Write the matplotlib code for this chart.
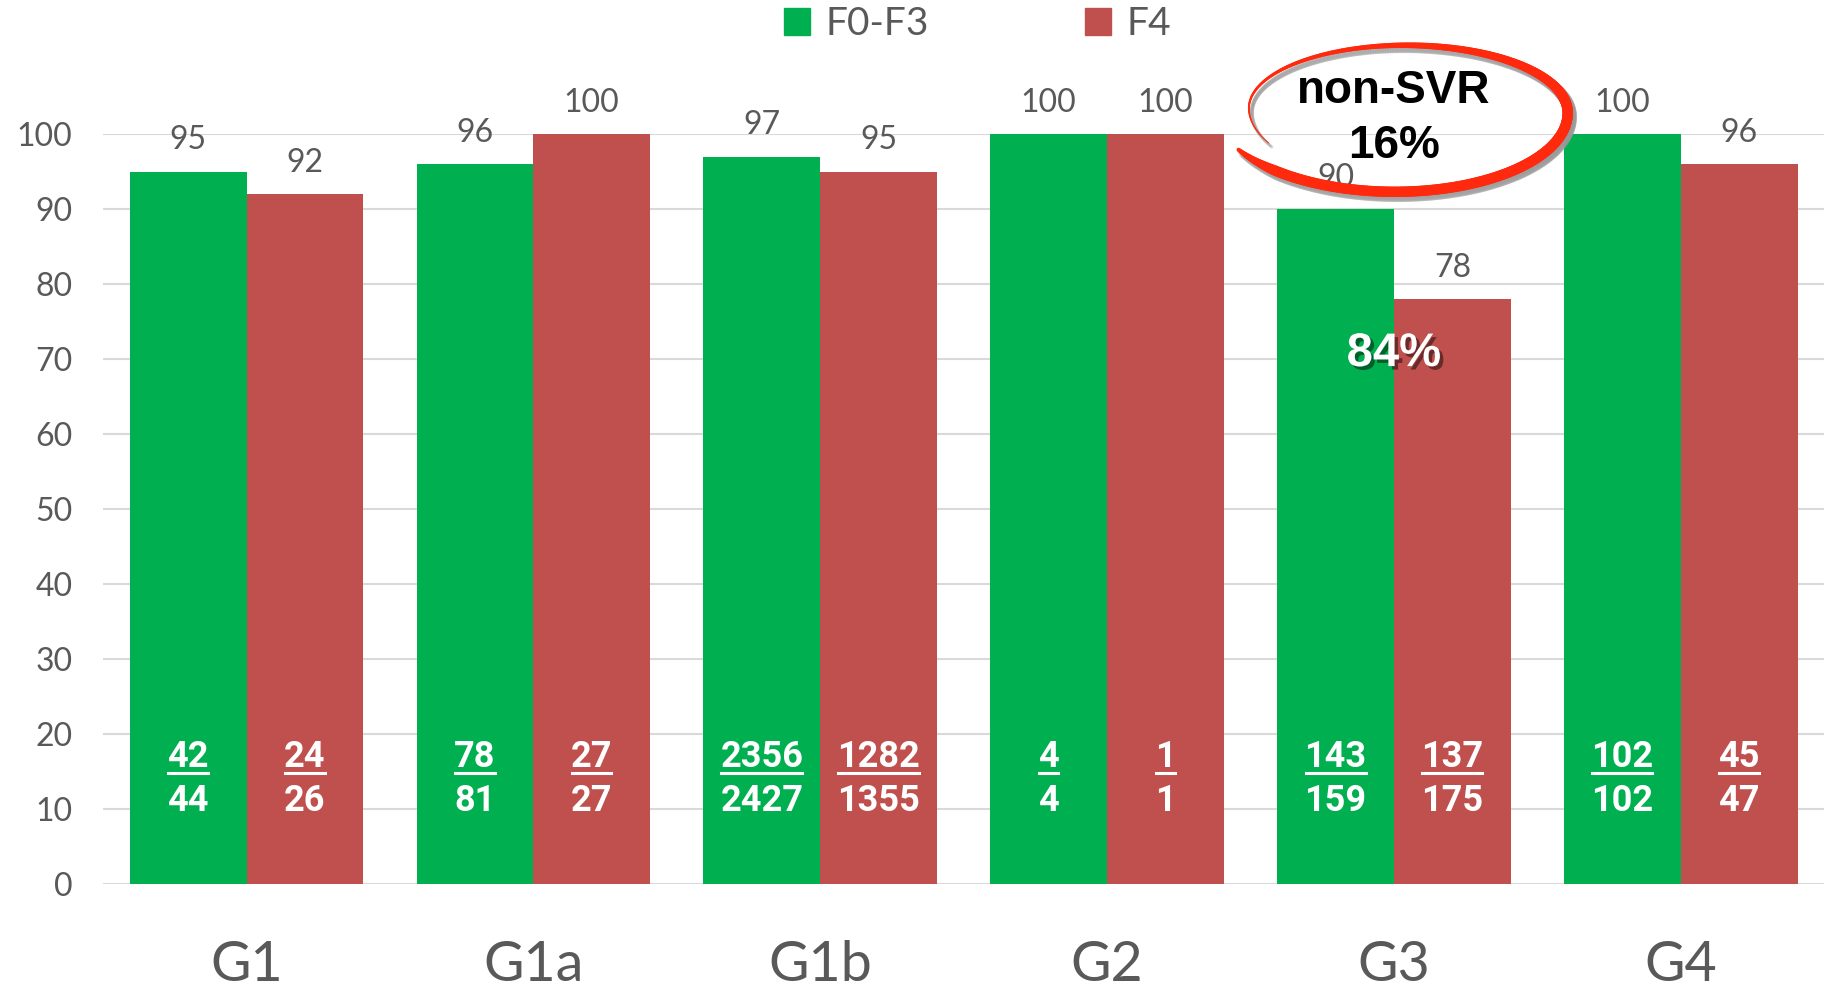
import numpy as np
import matplotlib.pyplot as plt
import matplotlib.patheffects as pe
from matplotlib.patches import Patch
from matplotlib.collections import LineCollection
from matplotlib.lines import Line2D
from matplotlib.transforms import ScaledTranslation

genotypes = ['G1', 'G1a', 'G1b', 'G2', 'G3', 'G4']
svr_f0f3 = [95, 96, 97, 100, 90, 100]
svr_f4 = [92, 100, 95, 100, 78, 96]
n_f0f3 = [42, 78, 2356, 4, 143, 102]
d_f0f3 = [44, 81, 2427, 4, 159, 102]
n_f4 = [24, 27, 1282, 1, 137, 45]
d_f4 = [26, 27, 1355, 1, 175, 47]

GREEN = '#00B050'
RED = '#C0504D'
GRAY = '#595959'
LABEL_FONT = 'Lato'
FRAC_FONT = ['Liberation Sans Narrow', 'Roboto']

fig = plt.figure(figsize=(18.31, 9.94), dpi=100)
ax = fig.add_axes([0.0563, 0.1107, 0.94, 0.754])

x = np.arange(len(genotypes))
w = 0.407
b1 = ax.bar(x - w / 2, svr_f0f3, w, color=GREEN, zorder=2)
b2 = ax.bar(x + w / 2, svr_f4, w, color=RED, zorder=2)

ax.set_xlim(-0.5, len(genotypes) - 0.5)
ax.set_ylim(0, 100)
ax.set_yticks(range(0, 101, 10))
ax.grid(axis='y', color='#d9d9d9', lw=1.5, zorder=0)
ax.set_axisbelow(True)
for s in ax.spines.values():
    s.set_visible(False)
ax.tick_params(axis='y', length=0, pad=22, labelsize=23, labelcolor=GRAY)
ax.tick_params(axis='x', length=0, pad=40, labelsize=40, labelcolor=GRAY)
ax.set_xticks(x)
ax.set_xticklabels(genotypes)
for lab in ax.get_xticklabels() + ax.get_yticklabels():
    lab.set_family(LABEL_FONT)

# values above bars
for bars, vals in ((b1, svr_f0f3), (b2, svr_f4)):
    for rect, v in zip(bars, vals):
        ax.annotate(str(v), (rect.get_x() + rect.get_width() / 2, v),
                    xytext=(0, 12), textcoords='offset points',
                    ha='center', va='bottom', fontsize=23, color=GRAY,
                    family=LABEL_FONT, zorder=3)

# patient counts inside the bars (responders / total)
numerators = []
for xs, nums, dens in ((x - w / 2, n_f0f3, d_f0f3), (x + w / 2, n_f4, d_f4)):
    for xi, n, d in zip(xs, nums, dens):
        t = ax.text(xi, 17.0, str(n), ha='center', va='center', color='white',
                    fontsize=26, fontweight='bold', family=FRAC_FONT, zorder=4)
        ax.text(xi, 11.1, str(d), ha='center', va='center', color='white',
                fontsize=26, fontweight='bold', family=FRAC_FONT, zorder=4)
        numerators.append(t)

fig.canvas.draw()
renderer = fig.canvas.get_renderer()
y_line = ax.transData.transform((0, 14.8))[1]
for t in numerators:
    bb = t.get_window_extent(renderer)
    fig.add_artist(Line2D([bb.x0 + 1, bb.x1 - 1], [y_line, y_line],
                          transform=None, color='white', lw=2.2, zorder=5))

# G3 callout
ax.text(4, 70.7, '84%', ha='center', va='center', color='white',
        fontsize=34, fontweight='bold', family='Liberation Sans', zorder=6,
        path_effects=[pe.SimplePatchShadow(offset=(2.5, -2.5), shadow_rgbFace='black', alpha=0.45),
                      pe.Normal()])

# hand-drawn oval around the non-SVR share
t = np.radians(np.linspace(208, 568, 400))
scale = np.linspace(1.06, 0.86, t.size)
ox = 4.02 + 0.6 * scale * np.cos(t)
oy = 103.2 + 9.4 * scale * np.sin(t)
oy = np.where(np.sin(t) < 0, oy - 1.2 * (-np.sin(t)), oy)
pts = np.column_stack([ox, oy]).reshape(-1, 1, 2)
segs = np.concatenate([pts[:-1], pts[1:]], axis=1)
frac = np.linspace(0, 1, len(segs))
widths = np.interp(frac, [0, 0.05, 0.45, 0.7, 0.9, 1.0], [3, 7.5, 7.5, 3.5, 1.5, 0.6])
shadow = LineCollection(segs, linewidths=widths + 1.5, colors='#999999', alpha=0.35,
                        transform=ax.transData + ScaledTranslation(3 / 100, -4 / 100, fig.dpi_scale_trans),
                        clip_on=False, zorder=6, capstyle='round')
ax.add_collection(shadow)
oval = LineCollection(segs, linewidths=widths, colors='#FF2A0E', clip_on=False,
                      zorder=7, capstyle='round')
ax.add_collection(oval)
ax.text(4, 105.8, 'non-SVR', ha='center', va='center', fontsize=33,
        fontweight='bold', family='Liberation Sans', color='black', zorder=8, clip_on=False)
ax.text(4, 98.4, '16%', ha='center', va='center', fontsize=33,
        fontweight='bold', family='Liberation Sans', color='black', zorder=8, clip_on=False)

handles = [Patch(color=GREEN, label='F0-F3'), Patch(color=RED, label='F4')]
fig.legend(handles=handles, loc='center', bbox_to_anchor=(0.534, 0.976), ncol=2,
           frameon=False, handlelength=0.68, handleheight=0.68, handletextpad=0.4,
           columnspacing=4.0, prop={'family': LABEL_FONT, 'size': 28}, labelcolor=GRAY)

fig.savefig('out.png', dpi=100)
